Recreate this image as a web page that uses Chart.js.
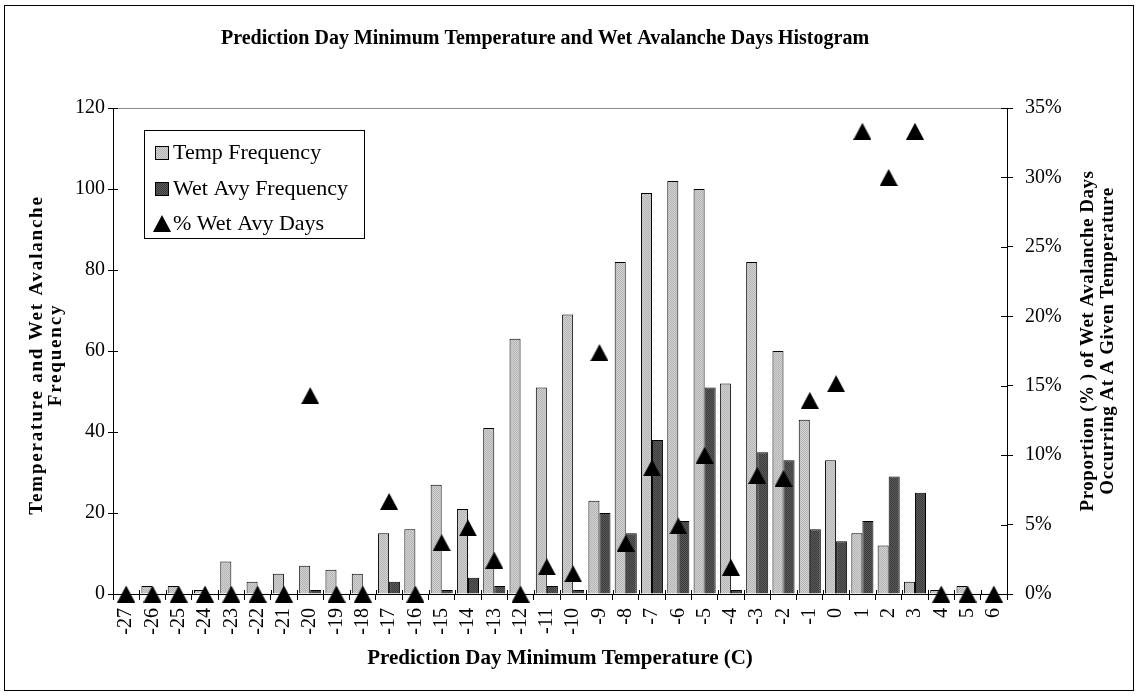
<!DOCTYPE html>
<html>
  <head>
    <title>Wet Avalanche Days Histogram</title>
    <meta charset="utf-8" />
    <script src="https://cdn.jsdelivr.net/npm/chart.js"></script>
    <style>
      body { margin: 0; background: #fff; }
      canvas { display: block; }
    </style>
  </head>
  <body>
    <canvas id="histChart" width="1139" height="696"></canvas>
    <script type="text/javascript">
        var temps = ['-27', '-26', '-25', '-24', '-23', '-22', '-21', '-20', '-19', '-18', '-17', '-16',
                     '-15', '-14', '-13', '-12', '-11', '-10', '-9', '-8', '-7', '-6', '-5', '-4',
                     '-3', '-2', '-1', '0', '1', '2', '3', '4', '5', '6']
        var tempFrequency = [0, 2, 2, 1, 8, 3, 5, 7, 6, 5, 15, 16,
                             27, 21, 41, 63, 51, 69, 23, 82, 99, 102, 100, 52,
                             82, 60, 43, 33, 15, 12, 3, 1, 2, 0]
        var wetAvyFrequency = [0, 0, 0, 0, 0, 0, 0, 1, 0, 0, 3, 0,
                               1, 4, 2, 0, 2, 1, 20, 15, 38, 18, 51, 1,
                               35, 33, 16, 13, 18, 29, 25, 0, 0, 0]
        var wetAvyPercent = [0, 0, 0, 0, 0, 0, 0, 14.29, 0, 0, 6.67, 0,
                             3.7, 4.76, 2.44, 0, 1.96, 1.45, 17.39, 3.66, 9.09, 4.9, 10, 1.92,
                             8.54, 8.33, 13.95, 15.15, 33.33, 30, 33.33, 0, 0, 0]
        var freqTicks = [0, 20, 40, 60, 80, 100, 120]
        var pctTicks = [0, 5, 10, 15, 20, 25, 30, 35]

        var serif = 'Liberation Serif, Times New Roman, serif'

        // fine speckled fill, like the old spreadsheet bar patterns
        function speckle(base, dot) {
            var c = document.createElement('canvas')
            c.width = 2
            c.height = 2
            var g = c.getContext('2d')
            g.fillStyle = base
            g.fillRect(0, 0, 2, 2)
            g.fillStyle = dot
            g.fillRect(0, 0, 1, 1)
            g.fillRect(1, 1, 1, 1)
            return g.createPattern(c, 'repeat')
        }

        // solid triangle marker, centred on its box so 0% sits across the axis
        function triangleMark(w, h) {
            var c = document.createElement('canvas')
            c.width = w
            c.height = h
            var g = c.getContext('2d')
            g.fillStyle = '#000'
            g.beginPath()
            g.moveTo(w / 2, 0)
            g.lineTo(w, h)
            g.lineTo(0, h)
            g.closePath()
            g.fill()
            return c
        }

        var ctx = document.getElementById('histChart').getContext('2d')
        var lightFill = speckle('#d2d2d2', '#b4b4b4')
        var darkFill = speckle('#5a5a5a', '#3c3c3c')
        var tri = triangleMark(18, 17)

        function line(c, x1, y1, x2, y2) {
            c.beginPath()
            c.moveTo(x1, y1)
            c.lineTo(x2, y2)
            c.stroke()
        }

        function vtitle(c, lines, x, y, gap, spacing) {
            c.save()
            c.translate(x, y)
            c.rotate(-Math.PI / 2)
            c.letterSpacing = spacing
            lines.forEach(function(t, i) { c.fillText(t, 0, i * gap) })
            c.restore()
        }

        var decor = {
            id: 'decor',
            beforeDraw: function(chart) {
                var c = chart.ctx
                c.save()
                c.fillStyle = '#fff'
                c.fillRect(0, 0, chart.width, chart.height)
                c.restore()
            },
            beforeDatasetsDraw: function(chart) {
                var c = chart.ctx, a = chart.chartArea
                c.save()
                c.strokeStyle = '#8c8c8c'
                c.lineWidth = 1
                line(c, a.left, Math.round(a.top) + 0.5, a.right, Math.round(a.top) + 0.5)
                c.restore()
            },
            afterDraw: function(chart) {
                var c = chart.ctx, a = chart.chartArea
                var ys = chart.scales.y, ps = chart.scales.yPct
                var midY = (a.top + a.bottom) / 2
                c.save()
                c.strokeStyle = '#000'
                c.lineWidth = 1

                // tick marks poking into the plot
                ys.ticks.forEach(function(t, i) {
                    var py = Math.round(ys.getPixelForTick(i)) + 0.5
                    line(c, a.left, py, a.left + 5, py)
                })
                ps.ticks.forEach(function(t, i) {
                    var py = Math.round(ps.getPixelForTick(i)) + 0.5
                    line(c, a.right - 6, py, a.right, py)
                })
                var w = (a.right - a.left) / temps.length
                for (var i = 0; i <= temps.length; i++) {
                    var px = Math.round(a.left + i * w) + 0.5
                    line(c, px, a.bottom - 4, px, a.bottom)
                }

                // outer frame
                c.strokeRect(4.5, 5.5, 1129, 685)

                c.fillStyle = '#000'
                c.textAlign = 'center'
                c.textBaseline = 'middle'
                c.font = 'bold 20px ' + serif
                c.fillText('Prediction Day Minimum Temperature and Wet Avalanche Days Histogram', 545, 39)

                // both value-axis titles read bottom to top
                c.font = 'bold 19px ' + serif
                vtitle(c, ['Temperature and Wet Avalanche', 'Frequency'], 37, midY + 4, 19, '1.8px')
                vtitle(c, ['Proportion (% ) of Wet Avalanche Days', 'Occurring At A Given Temperature'], 1088, midY - 10, 20, '0.5px')

                // legend box
                c.fillStyle = '#fff'
                c.fillRect(144, 130, 220, 108)
                c.strokeRect(144.5, 130.5, 220, 108)
                var items = [
                    { text: 'Temp Frequency', fill: lightFill, y: 152 },
                    { text: 'Wet Avy Frequency', fill: darkFill, y: 188 },
                    { text: '% Wet Avy Days', fill: null, y: 223 }
                ]
                c.textAlign = 'left'
                c.font = '22px ' + serif
                items.forEach(function(it) {
                    if (it.fill) {
                        c.fillStyle = it.fill
                        c.fillRect(155, it.y - 6, 13, 13)
                        c.strokeRect(155.5, it.y - 5.5, 13, 13)
                    } else {
                        c.drawImage(tri, 153, it.y - 8)
                    }
                    c.fillStyle = '#000'
                    c.fillText(it.text, 173, it.y + 1)
                })
                c.restore()
            }
        }

        new Chart(ctx, {
            type: 'bar',
            data: {
                labels: temps,
                datasets: [{
                    type: 'line',
                    label: '% Wet Avy Days',
                    data: wetAvyPercent,
                    yAxisID: 'yPct',
                    showLine: false,
                    pointStyle: tri,
                    pointRadius: 9,
                    pointHoverRadius: 9,
                    backgroundColor: '#000',
                    borderColor: '#000',
                    clip: false,
                    order: 0,
                }, {
                    label: 'Temp Frequency',
                    data: tempFrequency,
                    yAxisID: 'y',
                    backgroundColor: lightFill,
                    borderColor: '#000',
                    borderWidth: 1,
                    categoryPercentage: 0.84,
                    barPercentage: 1,
                    order: 1,
                }, {
                    label: 'Wet Avy Frequency',
                    data: wetAvyFrequency,
                    yAxisID: 'y',
                    backgroundColor: darkFill,
                    borderColor: '#000',
                    borderWidth: 1,
                    categoryPercentage: 0.84,
                    barPercentage: 1,
                    order: 1,
                }]
            },
            options: {
                responsive: false,
                animation: false,
                layout: { padding: { top: 108 } },
                plugins: {
                    legend: { display: false },
                    title: { display: false },
                    tooltip: { enabled: false },
                },
                scales: {
                    x: {
                        border: { color: '#000' },
                        grid: { offset: true, drawOnChartArea: false, tickLength: 6, color: '#000' },
                        ticks: {
                            color: '#000',
                            font: { family: serif, size: 20 },
                            minRotation: 90,
                            maxRotation: 90,
                            autoSkip: false,
                            padding: 8,
                        },
                        title: {
                            display: true,
                            text: 'Prediction Day Minimum Temperature (C)',
                            color: '#000',
                            font: { family: serif, size: 21, weight: 'bold' },
                            padding: { top: 0, bottom: 25 },
                        },
                        afterFit: function(s) { s.height = 102 },
                    },
                    y: {
                        position: 'left',
                        min: freqTicks[0],
                        max: freqTicks[freqTicks.length - 1],
                        border: { color: '#000' },
                        grid: { drawOnChartArea: false, tickLength: 5, color: '#000' },
                        afterBuildTicks: function(s) {
                            s.ticks = freqTicks.map(function(v) { return { value: v } })
                        },
                        ticks: {
                            color: '#000',
                            font: { family: serif, size: 20 },
                            padding: 3,
                        },
                        afterFit: function(s) { s.width = 113 },
                    },
                    yPct: {
                        position: 'right',
                        min: pctTicks[0],
                        max: pctTicks[pctTicks.length - 1],
                        border: { color: '#000' },
                        grid: { drawOnChartArea: false, tickLength: 6, color: '#000' },
                        afterBuildTicks: function(s) {
                            s.ticks = pctTicks.map(function(v) { return { value: v } })
                        },
                        ticks: {
                            color: '#000',
                            font: { family: serif, size: 20 },
                            padding: 12,
                            callback: function(v) { return v + '%' },
                        },
                        afterFit: function(s) { s.width = 132 },
                    },
                }
            },
            plugins: [decor]
        })
    </script>
  </body>
</html>
